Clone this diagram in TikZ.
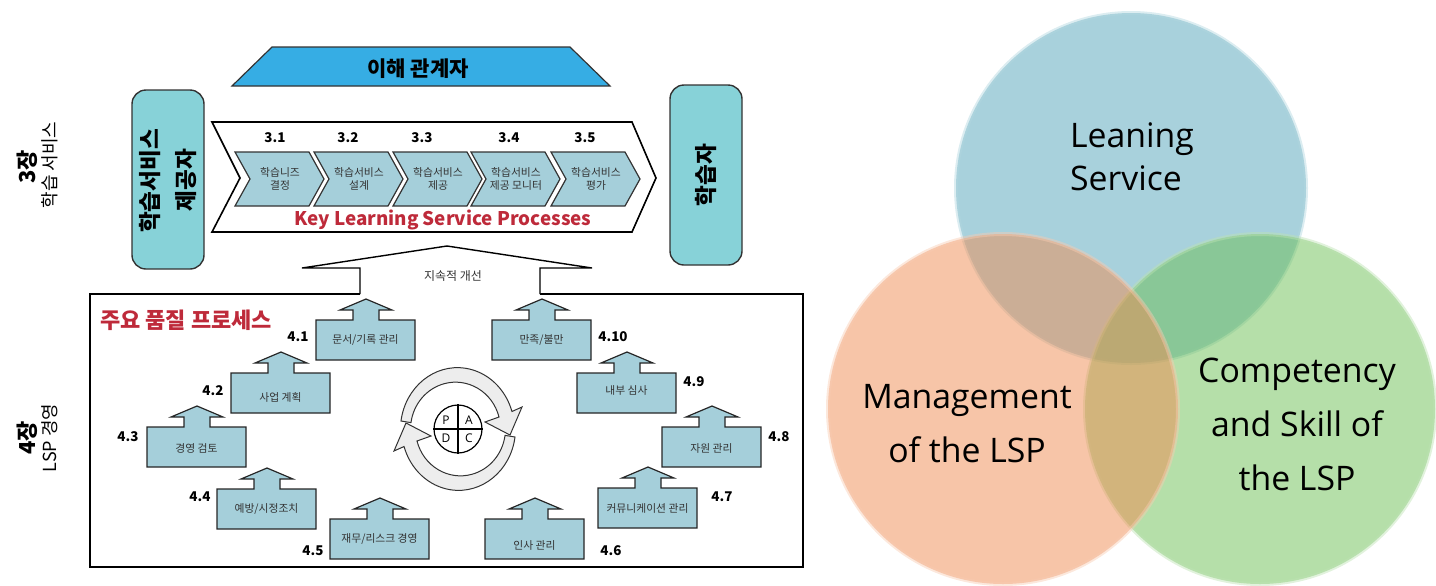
\documentclass[tikz,border=0pt]{standalone}
\usepackage{fontspec}
\setmainfont{Open Sans}
\newfontfamily\kofont{Noto Sans CJK KR}
\usetikzlibrary{positioning,calc}
\definecolor{boxblue}{HTML}{A5CFDA}
\definecolor{sideteal}{HTML}{87D2D8}
\definecolor{topblue}{HTML}{36ADE4}
\definecolor{keyred}{HTML}{BE2A3A}
\definecolor{vennblue}{HTML}{51A3B9}
\definecolor{vennorange}{HTML}{EF8B51}
\definecolor{venngreen}{HTML}{6BBF53}
\tikzset{
  numlabel/.style={font=\kofont\bfseries\fontsize{6.7}{8}\selectfont, inner sep=0pt},
  smalllabel/.style={font=\kofont\fontsize{5.4}{6.8}\selectfont, align=center, inner sep=0pt, text=black!80},
  sidebox/.style={draw=black!80, line width=.7pt, fill=sideteal, rounded corners=7pt},
  sidetext/.style={font=\kofont\bfseries\fontsize{11.3}{13}\selectfont, rotate=90, inner sep=0pt},
  chaptext/.style={font=\kofont\bfseries\fontsize{11}{13}\selectfont, rotate=90, inner sep=0pt},
  chapsub/.style={font=\kofont\fontsize{9}{11}\selectfont, rotate=90, inner sep=0pt},
  redtext/.style={font=\kofont\bfseries\fontsize{11}{13}\selectfont, text=keyred, inner sep=0pt},
  venntext/.style={font=\fontsize{16.9}{27}\selectfont, align=center, inner sep=0pt},
  vennring/.style={fill opacity=.5, draw opacity=.45, line width=2pt, circle, minimum size=175pt, inner sep=0pt},
}
% chevron with its text
\newcommand{\stepchevron}[4]{%
  \draw[draw=black!80, line width=.6pt, fill=boxblue] (#2,152) -- ++(74,0) -- ++(15,27) -- ++(-15,27) -- ++(-74,0) -- ++(15,-27) -- cycle;
  \node[smalllabel] (#1) at (#2+45,#3) {#4};
}
% block with arrow on top
\newcommand{\qualityblock}[5]{%
  \draw[draw=black!85, line width=.6pt, fill=boxblue] (#2,#3) -- ++(37,0) -- ++(0,-10) -- ++(-13,0) -- ++(26,-11) -- ++(26,11) -- ++(-13,0) -- ++(0,10) -- ++(36,0) -- ++(0,40) -- ++(-99,0) -- cycle;
  \node[smalllabel] (#1) at (#2+49.5,#4) {#5};
}
\begin{document}
\begin{tikzpicture}[x=.5pt,y=-.5pt]
\useasboundingbox (0,0) rectangle (1436,585);

% venn circles
\node[vennring, draw=vennblue!45!white, fill=vennblue] (learning) at (1131,188) {};
\node[vennring, draw=venngreen!45!white, fill=venngreen] (skill) at (1260,409) {};
\node[vennring, draw=vennorange!45!white, fill=vennorange] (manage) at (1003,409) {};
\node[venntext, align=left, font=\fontsize{16.9}{21.5}\selectfont] (learningtext) at (1132,157) {Leaning\\Service};
\node[venntext] (managetext) at (967,424) {Management\\of the LSP};
\node[venntext] (skilltext) at (1297,424) {Competency\\and Skill of\\the LSP};

% chapter labels
\node[chaptext] (chapthree) at (27,167) {3장};
\node[chapsub] (chapthreesub) at (50,165) {학습 서비스};
\node[chaptext] (chapfour) at (27,438) {4장};
\node[chapsub] (chapfoursub) at (50,438) {LSP 경영};

% stakeholders
\draw[draw=black!80, line width=.6pt, fill=topblue] (232,86) -- (272,47) -- (570,47) -- (610,86) -- cycle;
\node[font=\kofont\bfseries\fontsize{10.5}{12}\selectfont, inner sep=0pt] (stake) at (418,69) {이해 관계자};

% provider and learner
\draw[sidebox] (132,90) rectangle (204,269);
\node[sidetext] (provider) at (150,181) {학습서비스};
\node[sidetext] (providertwo) at (186,180) {제공자};
\draw[sidebox] (670,85) rectangle (742,265);
\node[sidetext] (learner) at (706,175) {학습자};

% key processes
\draw[line width=.8pt, fill=white] (212,122) -- (632,122) -- (656,178) -- (632,232) -- (212,232) -- (240,178) -- cycle;
\stepchevron{sa}{235}{179}{학습니즈\\결정}
\stepchevron{sb}{314}{179}{학습서비스\\설계}
\stepchevron{sc}{393}{179}{학습서비스\\제공}
\stepchevron{sd}{471}{179}{학습서비스\\제공 모니터}
\stepchevron{se}{551}{179}{학습서비스\\평가}
\foreach \nm/\x in {3.1/275,3.2/348,3.3/422,3.4/509,3.5/585}
  \node[numlabel] at (\x,138) {\nm};
\node[redtext, font=\kofont\bfseries\fontsize{9.4}{11}\selectfont] (keytext) at (443,220) {Key Learning Service Processes};

% quality box
\draw[line width=.8pt] (360,294) -- (90,294) -- (90,567) -- (803,567) -- (803,294) -- (540,294);
\draw[line width=.7pt, fill=white] (360,294) -- (360,268) -- (302,268) -- (447,246) -- (592,268) -- (540,268) -- (540,294);
\node[smalllabel, font=\kofont\fontsize{6}{7}\selectfont] (improve) at (453,276) {지속적 개선};
\node[redtext] (qualtext) at (186,320) {주요 품질 프로세스};

\qualityblock{qa}{316}{320}{340}{문서/기록 관리}
\qualityblock{qb}{231}{373}{397}{사업 계획}
\qualityblock{qc}{147}{427}{448}{경영 검토}
\qualityblock{qd}{217}{489}{509}{예방/시정조치}
\qualityblock{qe}{330}{519}{539}{재무/리스크 경영}
\qualityblock{qf}{485}{519}{545}{인사 관리}
\qualityblock{qg}{598}{488}{508}{커뮤니케이션 관리}
\qualityblock{qh}{662}{427}{448}{자원 관리}
\qualityblock{qi}{577}{373}{390}{내부 심사}
\qualityblock{qj}{492}{320}{340}{만족/불만}
\foreach \nm/\x/\y in {4.1/298/337,4.2/213/391,4.3/128/437,4.4/200/497,4.5/313/551,4.6/611/551,4.7/722/497,4.8/779/437,4.9/694/382,4.10/613/337}
  \node[numlabel] at (\x,\y) {\nm};

% pdca
\foreach \ang in {0,180}
  \draw[draw=black!80, line width=.5pt, fill=black!7, rotate around={\ang:(458,429)}]
    (401,421) arc[start angle=-172, end angle=-17, x radius=57, y radius=62]
    -- (522,407) -- (510,435) -- (485,422) -- (499,417)
    arc[start angle=-15, end angle=-172, x radius=45, y radius=47] -- cycle;
\node[circle, draw, line width=.6pt, fill=white, minimum size=24pt, inner sep=0pt] (pdca) at (458,429) {};
\draw[line width=.6pt] (pdca.north) -- (pdca.south);
\draw[line width=.6pt] (pdca.west) -- (pdca.east);
\foreach \nm/\x/\y in {P/446/420,A/469/420,D/446/438,C/469/438}
  \node[font=\fontsize{6}{7}\selectfont, inner sep=0pt] at (\x,\y) {\nm};
\end{tikzpicture}
\end{document}
